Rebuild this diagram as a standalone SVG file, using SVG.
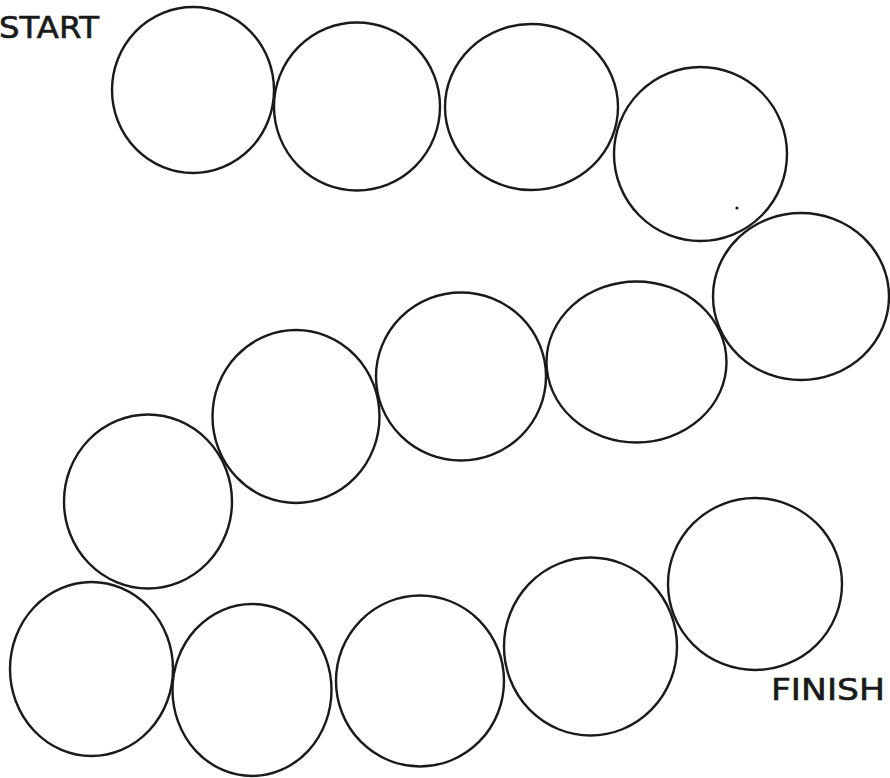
<svg xmlns="http://www.w3.org/2000/svg" width="890" height="778" viewBox="0 0 890 778">
<style>
.sp{fill:none;stroke:#1a1a1a;stroke-width:2.4}
.lbl{font-family:"DejaVu Sans","Liberation Sans",sans-serif;font-size:30px;fill:#1a1a1a;stroke:#1a1a1a;stroke-width:0.6}
</style>
<rect width="890" height="778" fill="#ffffff"/>
<g id="connectors"/>
<g id="label-start"><text class="lbl" x="-1" y="38" textLength="100" lengthAdjust="spacingAndGlyphs">START</text></g>
<g id="label-finish"><text class="lbl" x="771" y="700" textLength="114" lengthAdjust="spacingAndGlyphs">FINISH</text></g>
<g id="space1"><ellipse class="sp" cx="193" cy="90" rx="81" ry="83"/></g>
<g id="space2"><ellipse class="sp" cx="357" cy="106.5" rx="83" ry="84"/></g>
<g id="space3"><ellipse class="sp" cx="531.5" cy="107" rx="86.5" ry="83"/></g>
<g id="space4"><ellipse class="sp" cx="700.5" cy="154" rx="86.5" ry="87"/><circle cx="737" cy="208" r="1.6" fill="#1a1a1a"/></g>
<g id="space5"><ellipse class="sp" cx="801" cy="296.5" rx="88" ry="83.5"/></g>
<g id="space6"><ellipse class="sp" cx="636.5" cy="362" rx="90" ry="80.5"/></g>
<g id="space7"><ellipse class="sp" cx="461" cy="376.5" rx="85" ry="84"/></g>
<g id="space8"><ellipse class="sp" cx="296" cy="416.5" rx="83.5" ry="86.5"/></g>
<g id="space9"><ellipse class="sp" cx="148" cy="501.5" rx="84" ry="87"/></g>
<g id="space10"><ellipse class="sp" cx="91.5" cy="669" rx="81.5" ry="87"/></g>
<g id="space11"><ellipse class="sp" cx="252" cy="690" rx="79.5" ry="86"/></g>
<g id="space12"><ellipse class="sp" cx="420" cy="681" rx="84" ry="85.5"/></g>
<g id="space13"><ellipse class="sp" cx="590.5" cy="646.5" rx="86.5" ry="89"/></g>
<g id="space14"><ellipse class="sp" cx="755" cy="584" rx="87" ry="86"/></g>
</svg>
